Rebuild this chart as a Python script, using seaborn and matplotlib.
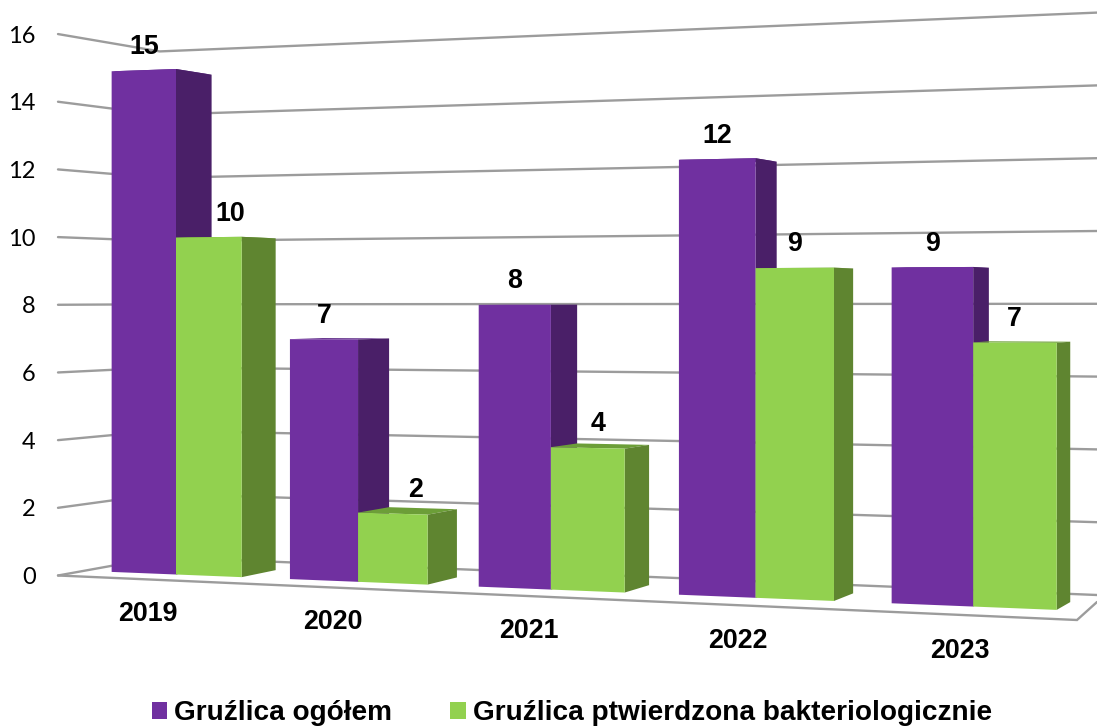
import numpy as np
import pandas as pd
import matplotlib
matplotlib.use("Agg")
import matplotlib.pyplot as plt
import seaborn as sns
from matplotlib.patches import Polygon
from matplotlib.transforms import Transform, Affine2D

years = ["2019", "2020", "2021", "2022", "2023"]
total = [15, 7, 8, 12, 9]
confirmed = [10, 2, 4, 9, 7]
series_names = ["Gruźlica ogółem", "Gruźlica ptwierdzona bakteriologicznie"]
y_ticks = list(range(0, 17, 2))

colors = {series_names[0]: "#7030A0", series_names[1]: "#92D14F"}
side_colors = {series_names[0]: "#4A1F68", series_names[1]: "#5F8530"}
top_colors = {series_names[0]: "#5A2785", series_names[1]: "#6C9E38"}
GRID = "#9C9C9C"
W, H = 1097, 728

sns.set_theme(style="white")
plt.rcParams["font.family"] = ["Liberation Sans", "DejaVu Sans"]


class FrontPlane(Transform):
    """Perspective view of the (category, value) plane, in canvas pixels."""
    input_dims = output_dims = 2
    is_separable = False
    has_inverse = False
    is_affine = False

    def transform_non_affine(self, values):
        values = np.asarray(values, float)
        u, v = values[:, 0], values[:, 1]
        w = 1 - 0.02805 * u
        x = (176 + 172 * u) / w
        y = (574.5 - 9.0 * u - (33.7 - 0.05 * u) * v) / w
        return np.column_stack([x, H - y])


front = FrontPlane()
pixels = Affine2D().scale(1, -1).translate(0, H)
VANISH = np.array([1600.0, 297.0])


def recede(p, t=0.025):
    p = np.asarray(p, float)
    return p + t * (VANISH - p)


def to_px(u, v):
    d = front.transform(np.array([[u, v]], float))[0]
    return np.array([d[0], H - d[1]])


df = pd.DataFrame({
    "year": years * 2,
    "count": total + confirmed,
    "series": [series_names[0]] * 5 + [series_names[1]] * 5,
})

fig = plt.figure(figsize=(W / 100, H / 100), dpi=100)
ax = fig.add_axes([58 / W, 0, (W - 58) / W, 1])
sns.barplot(data=df, x="year", y="count", hue="series", palette=colors,
            hue_order=series_names, order=years, width=0.735, gap=0,
            saturation=1, linewidth=0, ax=ax, zorder=5)
xlim = ax.get_xlim()

# bars: perspective front faces, then depth faces from each bar's geometry
for name, cont, base_z in zip(series_names, ax.containers, (2, 3)):
    for bar in cont:
        bar.set_transform(front)
        bar.set_snap(False)
        bar.set_zorder(base_z + 3)
        u0, u1, h = bar.get_x(), bar.get_x() + bar.get_width(), bar.get_height()
        a, b = to_px(u1, 0), to_px(u1, h)
        ax.add_patch(Polygon([a, b, recede(b), recede(a)], closed=True,
                             transform=pixels, fc=side_colors[name], ec="none",
                             zorder=base_z + 0.5))
        c = to_px(u0, h)
        ax.add_patch(Polygon([c, b, recede(b), recede(c)], closed=True,
                             transform=pixels, fc=top_colors[name], ec="none",
                             zorder=base_z))

# walls and floor
for v in y_ticks:
    left = np.array([58.0, 575.5 - 33.84 * v])
    corner = recede(left, 0.066)
    right = np.array([1097.0, 595 - 36.4 * v])
    pts = np.array([left, corner, right])
    ax.plot(pts[:, 0], pts[:, 1], transform=pixels, color=GRID, lw=1.7, zorder=1,
            solid_joinstyle="miter", clip_on=False)
floor = np.array([[58.0, 575.5], [1077, 620], [1097, 602]])
ax.plot(floor[:, 0], floor[:, 1], transform=pixels, color=GRID, lw=1.7, zorder=1,
        solid_joinstyle="miter", clip_on=False)

# value labels
bold = dict(fontsize=19.3, fontweight="bold", color="black", ha="center", va="center", zorder=8)
label_shift = {0: [1, 0, 0, 0, 0], 1: [22, 23, 10, 0, 0]}
for k, cont in enumerate(ax.containers):
    for i, bar in enumerate(cont):
        h = bar.get_height()
        tr = front + Affine2D().translate(label_shift[k][i], 23.5)
        ax.text(bar.get_x() + bar.get_width() / 2, h, f"{h:.0f}", transform=tr,
                clip_on=False, **bold)

# category labels sit on the floor's front
for i, year in enumerate(years):
    ax.text(1.025 * i - 0.159, -1.2, year, transform=front, **bold)

ax.set_xlim(xlim)
ax.set_ylim(-(H - 575.5) / 33.84, 575.5 / 33.84)
ax.set_yticks(y_ticks)
ax.set_xticks([])
ax.set_xlabel("")
ax.set_ylabel("")
ax.tick_params(axis="y", length=0, pad=16, labelsize=17, labelcolor="black")
for t in ax.get_yticklabels():
    t.set_fontfamily("Lato")
sns.despine(ax=ax, left=True, bottom=True)

sns.move_legend(ax, "center left", bbox_to_anchor=(152 / W, 15 / H),
                bbox_transform=fig.transFigure, ncol=2, frameon=False, title=None,
                fontsize=20.2, handlelength=0.55, handleheight=0.55,
                handletextpad=0.25, columnspacing=2.06, borderpad=0, borderaxespad=0)
leg = ax.get_legend()
for t in leg.get_texts():
    t.set_fontweight("bold")
    t.set_color("black")
leg.set_zorder(9)

fig.savefig("out.png", dpi=100)
